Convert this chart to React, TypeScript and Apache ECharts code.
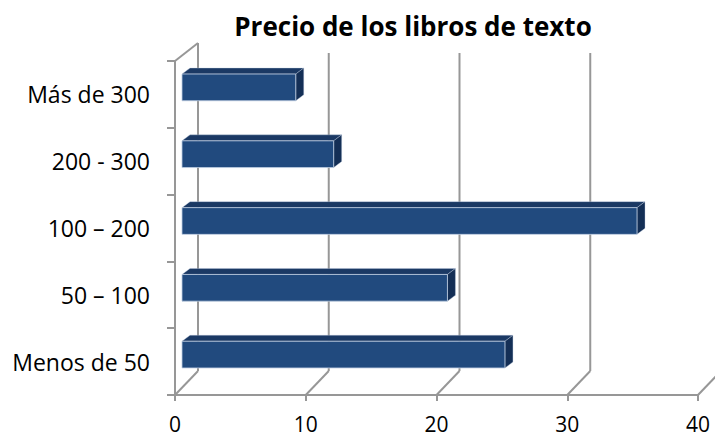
import React, { useEffect, useRef } from "react";
import * as echarts from "echarts";

const categories = ["Menos de 50", "50 – 100", "100 – 200", "200 - 300", "Más de 300"];
const values = [24.7, 20.3, 34.8, 11.6, 8.7];
const xTicks = [0, 10, 20, 30, 40];
const titleText = "Precio de los libros de texto";

const FONT = "'Open Sans', Lato, sans-serif";
const GRID_COLOR = "#979797";
const FRONT = "#214a7e";
const TOP = "#1b3964";
const SIDE = "#142f56";

// 3D projection offsets (pixels)
const WALL_DX = 23;
const WALL_DY = -24;
const BAR_SHIFT_X = 7;
const BAR_SHIFT_Y = -7;
const BAR_DX = 8;
const BAR_DY = -6;

export default function App() {
  const ref = useRef<HTMLDivElement>(null);

  useEffect(() => {
    if (!ref.current) return;
    const chart = echarts.init(ref.current, undefined, { renderer: "svg" });

    const wallRender = (params: any, api: any) => {
      const t = api.value(0);
      const cs = params.coordSys;
      const p = api.coord([t, 0]);
      const x = p[0];
      const yb = cs.y + cs.height;
      const children: any[] = [];
      const ls = { stroke: GRID_COLOR, lineWidth: 2 };
      children.push({
        type: "line",
        shape: { x1: x, y1: yb, x2: x + WALL_DX, y2: yb + WALL_DY },
        style: ls,
      });
      const isFirst = params.dataIndex === 0;
      children.push({
        type: "line",
        shape: { x1: x + WALL_DX, y1: yb + WALL_DY, x2: x + WALL_DX, y2: isFirst ? cs.y - 18 : cs.y - 8 },
        style: ls,
      });
      if (isFirst) {
        children.push({
          type: "line",
          shape: { x1: x, y1: cs.y, x2: x + WALL_DX, y2: cs.y - 18 },
          style: ls,
        });
      }
      return { type: "group", children };
    };

    const barRender = (params: any, api: any) => {
      const v = api.value(0);
      const idx = api.value(1);
      const p0 = api.coord([0, idx]);
      const p1 = api.coord([v, idx]);
      const band = api.size([0, 1])[1];
      const h = band * 0.4;
      const x0 = p0[0] + BAR_SHIFT_X;
      const x1 = p1[0] + BAR_SHIFT_X;
      const yc = p0[1] + BAR_SHIFT_Y;
      const yt = yc - h / 2;
      const yb = yc + h / 2;
      return {
        type: "group",
        children: [
          {
            type: "polygon",
            shape: { points: [[x0, yt], [x0 + BAR_DX, yt + BAR_DY], [x1 + BAR_DX, yt + BAR_DY], [x1, yt]] },
            style: { fill: TOP, stroke: "rgba(190,205,225,0.6)", lineWidth: 0.6 },
          },
          {
            type: "polygon",
            shape: { points: [[x1, yt], [x1 + BAR_DX, yt + BAR_DY], [x1 + BAR_DX, yb + BAR_DY], [x1, yb]] },
            style: { fill: SIDE, stroke: "rgba(190,205,225,0.6)", lineWidth: 0.6 },
          },
          {
            type: "rect",
            shape: { x: x0, y: yt, width: x1 - x0, height: h },
            style: { fill: FRONT, stroke: "rgba(190,205,225,0.8)", lineWidth: 1 },
          },
        ],
      };
    };

    chart.setOption({
      animation: false,
      backgroundColor: "#ffffff",
      title: {
        text: titleText,
        left: 408,
        top: 5,
        textAlign: "center",
        textStyle: { fontFamily: FONT, fontSize: 26, fontWeight: "bold", color: "#000", lineHeight: 32 },
      },
      grid: { left: 175, right: 17, top: 61, bottom: 44, containLabel: false },
      xAxis: {
        type: "value",
        min: 0,
        max: 40,
        interval: 10,
        axisLine: { show: true, lineStyle: { color: GRID_COLOR, width: 2 } },
        axisTick: { show: true, length: 6, lineStyle: { color: GRID_COLOR, width: 2 } },
        splitLine: { show: false },
        axisLabel: {
          fontFamily: FONT,
          fontSize: 21,
          lineHeight: 18,
          color: "#000",
          margin: 20,
          showMaxLabel: true,
        },
      },
      yAxis: {
        type: "category",
        data: categories,
        axisLine: { show: true, lineStyle: { color: GRID_COLOR, width: 2 } },
        axisTick: { show: true, length: 8, lineStyle: { color: GRID_COLOR, width: 2 } },
        splitLine: { show: false },
        axisLabel: { fontFamily: FONT, fontSize: 23, color: "#000", margin: 25 },
      },
      series: [
        {
          type: "custom",
          renderItem: wallRender,
          data: xTicks.map((t) => [t, 0]),
          clip: false,
          z: 1,
          silent: true,
        },
        {
          type: "custom",
          renderItem: barRender,
          data: values.map((v, i) => [v, i]),
          encode: { x: 0, y: 1 },
          clip: false,
          z: 3,
        },
      ],
    });

    return () => chart.dispose();
  }, []);

  return (
    <div
      ref={ref}
      style={{ position: "fixed", left: 0, top: 0, width: 715, height: 439, background: "#fff" }}
    />
  );
}
